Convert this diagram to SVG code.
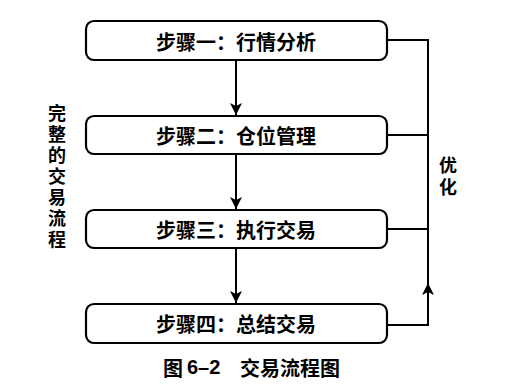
<svg xmlns="http://www.w3.org/2000/svg" width="506" height="391" viewBox="0 0 506 391">
<style>
.box{fill:#fff;stroke:#000;stroke-width:2.2}
.t{font-family:"Noto Sans CJK SC","Noto Sans",sans-serif;font-weight:bold;font-size:20px;text-anchor:middle;dominant-baseline:central;fill:#000}
.v{font-size:18px}
.cap{font-size:20px;text-anchor:start}
.c{fill:none;stroke:#000;stroke-width:2}
</style>
<defs>
<marker id="a" viewBox="0 0 12 12" refX="12" refY="6" markerWidth="12" markerHeight="12" orient="auto" markerUnits="userSpaceOnUse">
<path d="M0,0 L12,6 L0,12 L3,6 Z" fill="#000"/>
</marker>
</defs>
<rect width="506" height="391" fill="#fff"/>
<g id="connectors">
<path class="c" d="M236,60 V115" marker-end="url(#a)"/>
<path class="c" d="M236,154 V209" marker-end="url(#a)"/>
<path class="c" d="M236,248 V303" marker-end="url(#a)"/>
<path class="c" d="M387,40 H428 V325 H387"/>
<path class="c" d="M387,135 H428"/>
<path class="c" d="M387,229 H428"/>
<path class="c" d="M428,310 V283" marker-end="url(#a)"/>
</g>
<g id="step1"><rect class="box" x="86" y="21" width="301" height="39" rx="8"/><text class="t" x="236" y="41">步骤一：行情分析</text></g>
<g id="step2"><rect class="box" x="86" y="116" width="301" height="38" rx="8"/><text class="t" x="236" y="135">步骤二：仓位管理</text></g>
<g id="step3"><rect class="box" x="86" y="210" width="301" height="38" rx="8"/><text class="t" x="236" y="229">步骤三：执行交易</text></g>
<g id="step4"><rect class="box" x="86" y="304" width="301" height="39" rx="8"/><text class="t" x="236" y="323">步骤四：总结交易</text></g>
<g id="optimize"><text class="t v" x="448" y="164">优</text><text class="t v" x="448" y="186">化</text></g>
<g id="label-left">
<text class="t v" x="57" y="112">完</text>
<text class="t v" x="57" y="133">整</text>
<text class="t v" x="57" y="154">的</text>
<text class="t v" x="57" y="175">交</text>
<text class="t v" x="57" y="196">易</text>
<text class="t v" x="57" y="217">流</text>
<text class="t v" x="57" y="238">程</text>
</g>
<g id="caption">
<text class="t cap" x="163" y="367">图</text>
<text class="t cap" x="187" y="367" style="font-family:'Liberation Sans',sans-serif">6–2</text>
<text class="t cap" x="240" y="367">交易流程图</text>
</g>
</svg>
